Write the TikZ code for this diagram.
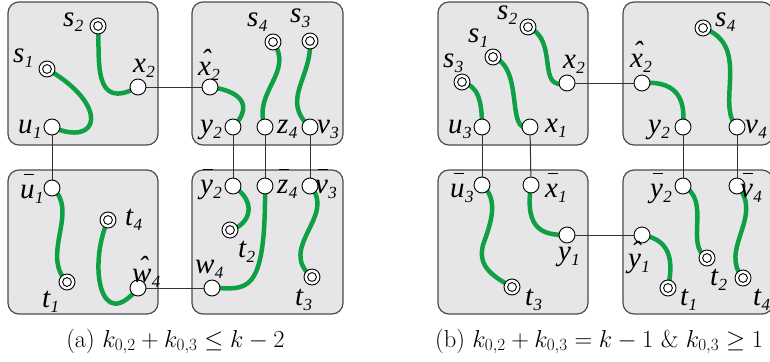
\RequirePackage{fix-cm}
\documentclass[tikz,border=0pt]{standalone}
\usepackage{fontspec}
\newfontfamily\lbf{Liberation Serif}
\usetikzlibrary{calc}
\pgfdeclarelayer{bg}
\pgfdeclarelayer{mid}
\pgfsetlayers{bg,mid,main}
\definecolor{boxfill}{RGB}{230,230,232}
\definecolor{boxline}{RGB}{75,75,75}
\definecolor{pathgreen}{RGB}{16,160,68}
\definecolor{conn}{RGB}{50,50,50}
\newcommand\Lb[2]{{\lbf\itshape\fontsize{29}{29}\selectfont #1\kern0.5pt\raisebox{-5pt}{\fontsize{17}{17}\selectfont #2}}}
\newcommand\HatL[1]{\ooalign{#1\cr\hidewidth\kern0.08em\raisebox{0.2em}{ˆ}\hidewidth\cr}}
\newcommand\BarL[1]{\ooalign{#1\cr\hidewidth\kern0.1em\rule[0.78em]{0.34em}{0.055em}\hidewidth\cr}}
\tikzset{
  panel/.style={draw=boxline,fill=boxfill,line width=1.2pt,rounded corners=11pt},
  ocirc/.style={circle,draw=black,fill=white,minimum size=16pt,inner sep=0pt,line width=0.9pt},
  dcirc/.style={ocirc,path picture={\draw[line width=0.9pt] (path picture bounding box.center) circle (4.4pt);}},
  gpath/.style={draw=pathgreen,line width=4.5pt},
  cline/.style={draw=conn,line width=1pt},
  lab/.style={anchor=base west,inner sep=0pt,outer sep=0pt},
  captext/.style={font=\fontsize{24.5}{28}\selectfont,inner sep=0pt}
}
\begin{document}
\begin{tikzpicture}[x=1pt,y=-1pt]
\useasboundingbox (0,0) rectangle (770,361);
% panels
\begin{pgfonlayer}{bg}
\path[panel] (8,2) rectangle (158,145);
\path[panel] (192,2) rectangle (343,145);
\path[panel] (8,170) rectangle (158,314);
\path[panel] (192,170) rectangle (343,314);
\path[panel] (438,2) rectangle (588,145);
\path[panel] (623,2) rectangle (773,145);
\path[panel] (438,170) rectangle (588,314);
\path[panel] (623,170) rectangle (773,314);
\end{pgfonlayer}
% ---------------- (a) ----------------
\node[dcirc] (as2) at (98,26) {};
\node[dcirc] (as1) at (47,69) {};
\node[ocirc] (ax2) at (138,87) {};
\node[ocirc] (au1) at (52,127) {};
\node[ocirc] (axh2) at (210,87) {};
\node[ocirc] (ay2) at (233,127) {};
\node[ocirc] (az4) at (265,127) {};
\node[ocirc] (av3) at (310,127) {};
\node[dcirc] (as4) at (273,42) {};
\node[dcirc] (as3) at (310,41) {};
\node[ocirc] (aub1) at (52,188) {};
\node[dcirc] (at4) at (108,220) {};
\node[dcirc] (at1) at (67,282) {};
\node[ocirc] (awh4) at (138,288) {};
\node[ocirc] (ayb2) at (233,186) {};
\node[ocirc] (azb4) at (265,186) {};
\node[ocirc] (avb3) at (310,186) {};
\node[dcirc] (at2) at (230,230) {};
\node[dcirc] (at3) at (312,277) {};
\node[ocirc] (aw4) at (212,288) {};
% labels (a)
\node[lab] (l-as2) at (63,27) {\Lb{s}{2}};
\node[lab] (l-as1) at (13,63) {\Lb{s}{1}};
\node[lab] (l-ax2) at (133,72) {\Lb{x}{2}};
\node[lab] (l-au1) at (18,133) {\Lb{u}{1}};
\node[lab] (l-axh2) at (198,75) {\Lb{\HatL{x}}{2}};
\node[lab] (l-ay2) at (200,133) {\Lb{y}{2}};
\node[lab] (l-az4) at (277,133) {\Lb{z}{4}};
\node[lab] (l-av3) at (317,133) {\Lb{v}{3}};
\node[lab] (l-as4) at (247,27) {\Lb{s}{4}};
\node[lab] (l-as3) at (290,23) {\Lb{s}{3}};
\node[lab] (l-aub1) at (20,198) {\Lb{\BarL{u}}{1}};
\node[lab] (l-at4) at (125,225) {\Lb{t}{4}};
\node[lab] (l-at1) at (42,307) {\Lb{t}{1}};
\node[lab] (l-awh4) at (132,282) {\Lb{\HatL{w}}{4}};
\node[lab] (l-ayb2) at (200,193) {\Lb{\BarL{y}}{2}};
\node[lab] (l-azb4) at (277,193) {\Lb{\BarL{z}}{4}};
\node[lab] (l-avb3) at (315,193) {\Lb{\BarL{v}}{3}};
\node[lab] (l-at2) at (238,257) {\Lb{t}{2}};
\node[lab] (l-at3) at (295,305) {\Lb{t}{3}};
\node[lab] (l-aw4) at (195,273) {\Lb{w}{4}};
% ---------------- (b) ----------------
\node[dcirc] (bs2) at (528,27) {};
\node[dcirc] (bs1) at (493,57) {};
\node[dcirc] (bs3) at (462,82) {};
\node[ocirc] (bx2) at (567,83) {};
\node[ocirc] (bu3) at (482,127) {};
\node[ocirc] (bx1) at (530,127) {};
\node[ocirc] (bxh2) at (642,83) {};
\node[ocirc] (by2) at (683,127) {};
\node[ocirc] (bv4) at (737,127) {};
\node[dcirc] (bs4) at (703,28) {};
\node[ocirc] (bub3) at (482,185) {};
\node[ocirc] (bxb1) at (531,185) {};
\node[ocirc] (by1) at (567,235) {};
\node[dcirc] (bt3) at (512,287) {};
\node[ocirc] (byb2) at (683,186) {};
\node[ocirc] (bvb4) at (737,186) {};
\node[ocirc] (byh1) at (642,235) {};
\node[dcirc] (bt1) at (668,288) {};
\node[dcirc] (bt2) at (707,258) {};
\node[dcirc] (bt4) at (743,278) {};
% labels (b)
\node[lab] (l-bs2) at (497,20) {\Lb{s}{2}};
\node[lab] (l-bs1) at (468,43) {\Lb{s}{1}};
\node[lab] (l-bs3) at (443,67) {\Lb{s}{3}};
\node[lab] (l-bx2) at (563,68) {\Lb{x}{2}};
\node[lab] (l-bu3) at (448,133) {\Lb{u}{3}};
\node[lab] (l-bx1) at (545,132) {\Lb{x}{1}};
\node[lab] (l-bxh2) at (630,67) {\Lb{\HatL{x}}{2}};
\node[lab] (l-by2) at (648,133) {\Lb{y}{2}};
\node[lab] (l-bv4) at (745,133) {\Lb{v}{4}};
\node[lab] (l-bs4) at (715,27) {\Lb{s}{4}};
\node[lab] (l-bub3) at (450,197) {\Lb{\BarL{u}}{3}};
\node[lab] (l-bxb1) at (545,197) {\Lb{\BarL{x}}{1}};
\node[lab] (l-by1) at (558,260) {\Lb{y}{1}};
\node[lab] (l-bt3) at (525,305) {\Lb{t}{3}};
\node[lab] (l-byb2) at (650,197) {\Lb{\BarL{y}}{2}};
\node[lab] (l-bvb4) at (740,197) {\Lb{\BarL{v}}{4}};
\node[lab] (l-byh1) at (628,267) {\Lb{\HatL{y}}{1}};
\node[lab] (l-bt1) at (680,305) {\Lb{t}{1}};
\node[lab] (l-bt2) at (710,285) {\Lb{t}{2}};
\node[lab] (l-bt4) at (753,305) {\Lb{t}{4}};
% captions
\node[captext,anchor=base] (capa) at (175.5,347) {(a) $k_{0,2}+k_{0,3}\le k-2$};
\node[captext,anchor=base west] (capb) at (435,347) {(b) $k_{0,2}+k_{0,3}=k-1$ \& $k_{0,3}\ge 1$};
% connectors and green paths
\begin{pgfonlayer}{mid}
\draw[cline] (ax2) -- (axh2);
\draw[cline] (au1) -- (aub1);
\draw[cline] (ay2) -- (ayb2);
\draw[cline] (az4) -- (azb4);
\draw[cline] (av3) -- (avb3);
\draw[cline] (awh4) -- (aw4);
\draw[cline] (bx2) -- (bxh2);
\draw[cline] (bu3) -- (bub3);
\draw[cline] (bx1) -- (bxb1);
\draw[cline] (by2) -- (byb2);
\draw[cline] (bv4) -- (bvb4);
\draw[cline] (by1) -- (byh1);
% (a) green
\draw[gpath] (as2.center) .. controls (100,60) and (92,112) .. (ax2.center);
\draw[gpath] (as1.center) .. controls (110,105) and (100,148) .. (au1.center);
\draw[gpath] (axh2.center) .. controls (248,92) and (250,110) .. (ay2.center);
\draw[gpath] (as4.center) .. controls (295,72) and (252,92) .. (az4.center);
\draw[gpath] (as3.center) .. controls (312,78) and (280,100) .. (av3.center);
\draw[gpath] (aub1.center) .. controls (80,210) and (40,255) .. (at1.center);
\draw[gpath] (at4.center) .. controls (88,265) and (100,335) .. (awh4.center);
\draw[gpath] (ayb2.center) .. controls (258,202) and (250,225) .. (at2.center);
\draw[gpath] (azb4.center) .. controls (266,300) and (245,288) .. (aw4.center);
\draw[gpath] (avb3.center) .. controls (338,215) and (276,248) .. (at3.center);
% (b) green
\draw[gpath] (bs2.center) .. controls (560,40) and (535,92) .. (bx2.center);
\draw[gpath] (bs1.center) .. controls (525,68) and (505,135) .. (bx1.center);
\draw[gpath] (bs3.center) .. controls (478,86) and (482,100) .. (bu3.center);
\draw[gpath] (bxh2.center) .. controls (682,80) and (685,105) .. (by2.center);
\draw[gpath] (bs4.center) .. controls (752,45) and (715,105) .. (bv4.center);
\draw[gpath] (bub3.center) .. controls (500,200) and (490,225) .. (483,245) .. controls (478,265) and (490,275) .. (bt3.center);
\draw[gpath] (bxb1.center) .. controls (524,232) and (545,235) .. (by1.center);
\draw[gpath] (byh1.center) .. controls (675,240) and (672,268) .. (bt1.center);
\draw[gpath] (byb2.center) .. controls (712,200) and (684,245) .. (bt2.center);
\draw[gpath] (bvb4.center) .. controls (765,215) and (718,250) .. (bt4.center);
\end{pgfonlayer}
\end{tikzpicture}
\end{document}
